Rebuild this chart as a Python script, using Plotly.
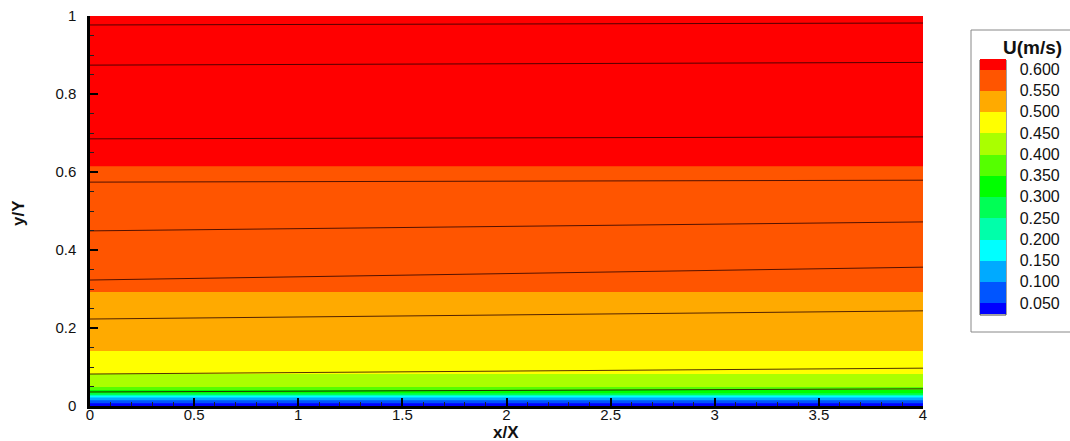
import plotly.graph_objects as go

# ---------------- data ----------------
# velocity profile U(y) (bands are horizontal -> same profile at every x)
x_stations = [0.0, 4.0]
y_profile = [0.0, 0.007, 0.015, 0.022, 0.026, 0.028, 0.033, 0.041, 0.049,
             0.082, 0.141, 0.292, 0.615, 1.0]
u_profile = [0.0, 0.05, 0.10, 0.15, 0.20, 0.25, 0.30, 0.35, 0.40,
             0.45, 0.50, 0.55, 0.60, 0.64]

# contour levels / legend labels
levels = [0.05, 0.10, 0.15, 0.20, 0.25, 0.30, 0.35, 0.40, 0.45, 0.50, 0.55, 0.60]
level_labels = ["0.050", "0.100", "0.150", "0.200", "0.250", "0.300",
                "0.350", "0.400", "0.450", "0.500", "0.550", "0.600"]
band_colors = ["#0000FF", "#0055FF", "#00AAFF", "#00FFFF", "#00FFAA", "#00FF55",
               "#00FF00", "#55FF00", "#AAFF00", "#FFFF00", "#FFAA00", "#FF5500",
               "#FF0000"]

# streamlines: y/Y at x/X = 0 and at x/X = 4
stream_x = [0.0, 4.0]
stream_y_start = [0.977, 0.874, 0.685, 0.574, 0.449, 0.323, 0.223, 0.082, 0.036]
stream_y_end = [0.982, 0.881, 0.690, 0.579, 0.472, 0.356, 0.244, 0.097, 0.044]

# ---------------- figure ----------------
z = [[u, u] for u in u_profile]

n = len(band_colors)
cscale = []
for k, c in enumerate(band_colors):
    lo = max(0.0, (k - 0.5) / (n - 1))
    hi = min(1.0, (k + 0.5) / (n - 1))
    cscale.append([lo, c])
    cscale.append([hi, c])

W, H = 1070, 441
ml, mr, mt, mb = 90, 147, 16, 35
pw, ph = W - ml - mr, H - mt - mb

def px_x(p):
    return (p - ml) / pw

def px_y(p):
    return (H - mb - p) / ph

# legend bar geometry (pixels)
bar_l, bar_r, bar_t, bar_b = 980, 1006, 60, 315
step = 0.05
zlo, zhi = levels[0] - step / 2, levels[-1] + step / 2

fig = go.Figure()
fig.add_trace(go.Contour(
    x=x_stations, y=y_profile, z=z,
    autocontour=False,
    contours=dict(start=levels[0], end=levels[-1], size=step,
                  coloring="fill", showlines=False),
    zmin=zlo, zmax=zhi,
    line=dict(smoothing=0, width=0),
    colorscale=cscale,
    showscale=True,
    colorbar=dict(
        xref="container", yref="container",
        x=bar_l / W, xanchor="left",
        y=1 - ((bar_t + bar_b) / 2 + 23) / H, yanchor="middle",
        lenmode="pixels", len=bar_b - bar_t,
        thicknessmode="pixels", thickness=bar_r - bar_l,
        xpad=0, ypad=0,
        outlinewidth=0,
        borderwidth=0,
        tickvals=levels, ticktext=level_labels,
        ticks="outside", ticklen=11, tickcolor="rgba(0,0,0,0)",
        tickfont=dict(family="Liberation Sans", size=16, color="#111"),
    ),
    hoverinfo="skip",
))

for ys, ye in zip(stream_y_start, stream_y_end):
    fig.add_trace(go.Scatter(
        x=stream_x, y=[ys, ye], mode="lines",
        line=dict(color="rgba(40,0,0,0.8)", width=1),
        showlegend=False, hoverinfo="skip",
    ))

axis_font = dict(family="Liberation Sans", size=15, color="#111")
fig.update_xaxes(
    range=[0, 4], dtick=0.5, tick0=0, automargin=False,
    showgrid=False, zeroline=False,
    showline=True, linecolor="black", linewidth=2.5,
    ticks="inside", ticklen=8, tickwidth=2, tickcolor="black",
    minor=dict(dtick=0.1, ticks="inside", ticklen=4, tickwidth=1, tickcolor="#222"),
    tickfont=axis_font, ticklabelstandoff=-7,
)
fig.update_yaxes(
    range=[0, 1], dtick=0.2, tick0=0, automargin=False,
    showgrid=False, zeroline=False,
    showline=True, linecolor="black", linewidth=2.5,
    ticks="inside", ticklen=8, tickwidth=2, tickcolor="black",
    minor=dict(dtick=0.05, ticks="inside", ticklen=4, tickwidth=1, tickcolor="#222"),
    tickfont=axis_font, ticklabelstandoff=8,
)

shapes = [
    dict(type="rect", xref="paper", yref="paper",
         x0=px_x(971), x1=px_x(1110), y0=px_y(332), y1=px_y(30),
         line=dict(color="#888", width=1), fillcolor="rgba(0,0,0,0)",
         layer="below"),
    dict(type="rect", xref="paper", yref="paper",
         x0=px_x(bar_l), x1=px_x(bar_r), y0=px_y(bar_b), y1=px_y(bar_t),
         line=dict(color="#444", width=1), fillcolor="rgba(0,0,0,0)",
         layer="above"),
]
# thin separators between the legend swatches, at each level
for lv in levels:
    py = bar_b - (lv - zlo) / (zhi - zlo) * (bar_b - bar_t)
    shapes.append(dict(type="line", xref="paper", yref="paper",
                       x0=px_x(bar_l), x1=px_x(bar_r), y0=px_y(py), y1=px_y(py),
                       line=dict(color="rgba(60,60,60,0.7)", width=1),
                       layer="above"))

fig.update_layout(
    width=W, height=H,
    margin=dict(l=ml, r=mr, t=mt, b=mb, autoexpand=False),
    paper_bgcolor="white", plot_bgcolor="white",
    showlegend=False,
    shapes=shapes,
    annotations=[
        dict(text="<b>x/X</b>", xref="paper", yref="paper",
             x=px_x(506), y=px_y(432), showarrow=False,
             font=dict(family="Liberation Sans", size=17, color="#111"),
             xanchor="center", yanchor="middle"),
        dict(text="<b>y/Y</b>", xref="paper", yref="paper",
             x=px_x(18), y=px_y(213), showarrow=False, textangle=-90,
             font=dict(family="Liberation Sans", size=17, color="#111"),
             xanchor="center", yanchor="middle"),
        dict(text="<b>U(m/s)</b>", xref="paper", yref="paper",
             x=px_x(1064), y=px_y(47), showarrow=False,
             font=dict(family="Liberation Sans", size=19, color="#111"),
             xanchor="right", yanchor="middle"),
    ],
)

fig.write_html("out.html",
               config={"displayModeBar": False},
               post_script="document.body.style.margin='0px';"
                           "document.body.style.overflow='hidden';")
